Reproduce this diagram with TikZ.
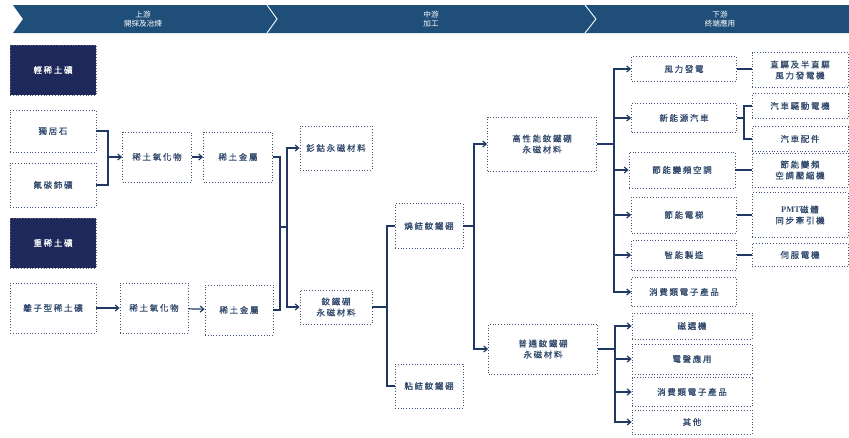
\documentclass[tikz,border=0pt]{standalone}
\usepackage{fontspec}
\setmainfont{Noto Sans CJK TC}
\newfontfamily\boxfont{Noto Sans CJK TC}[LetterSpace=20, FakeBold=0.6]
\newfontfamily\latinserif{Liberation Serif}
\usetikzlibrary{arrows.meta, positioning, calc}
\definecolor{barblue}{RGB}{31, 78, 121}
\definecolor{orenavy}{RGB}{31, 40, 90}
\definecolor{linenavy}{RGB}{31, 56, 100}
\definecolor{boxtext}{RGB}{50, 74, 110}

\begin{document}
\begin{tikzpicture}[x=1pt, y=-1pt,
  box/.style={draw=linenavy!85, dotted, line width=0.8pt, fill=white,
              text=boxtext, align=center, inner sep=1pt,
              font=\boxfont\fontsize{8.5}{11}\selectfont},
  ore/.style={box, fill=orenavy, draw=orenavy!70, text=white},
  stage/.style={text=white, align=center,
                font=\fontsize{7.6}{9}\selectfont},
  link/.style={draw=linenavy, line width=1.2pt},
  feed/.style={link, -{Straight Barb[length=3.5pt, width=6pt]}}
]
  \useasboundingbox (0,0) rectangle (849,437);

  % value chain banner
  \fill[barblue] (13,5) -- (849,5) -- (849,33) -- (13,33) -- (23,19) -- cycle;
  \draw[white, line width=0.9pt] (267,5) -- (277,19) -- (267,33);
  \draw[white, line width=0.9pt] (585,5) -- (596,19) -- (585,33);
  \node[stage] (up) at (143,19) {上游\\開採及冶煉};
  \node[stage] (mid) at (431,19) {中游\\加工};
  \node[stage] (down) at (720,19) {下游\\終端應用};

  % upstream
  \node[ore, minimum width=86pt, minimum height=50pt] (light) at (53,70) {輕稀土礦};
  \node[box, minimum width=86pt, minimum height=42pt] (mon) at (53,131) {獨居石};
  \node[box, minimum width=86pt, minimum height=44pt] (bast) at (53,185) {氟碳鈰礦};
  \node[ore, minimum width=86pt, minimum height=50pt] (heavy) at (53,243) {重稀土礦};
  \node[box, minimum width=86pt, minimum height=50pt] (ion) at (53,308) {離子型稀土礦};

  \node[box, minimum width=69pt, minimum height=50pt] (oxideA) at (157,157) {稀土氧化物};
  \node[box, minimum width=69pt, minimum height=50pt] (metalA) at (238,157) {稀土金屬};
  \node[box, minimum width=68pt, minimum height=50pt] (oxideB) at (154,308) {稀土氧化物};
  \node[box, minimum width=68pt, minimum height=50pt] (metalB) at (239,310) {稀土金屬};

  % midstream
  \node[box, minimum width=72pt, minimum height=44pt] (smco) at (336,148) {釤鈷永磁材料};
  \node[box, minimum width=72pt, minimum height=34pt] (ndfeb) at (336,307) {釹鐵硼\\永磁材料};
  \node[box, minimum width=68pt, minimum height=45pt] (sint) at (429,226) {燒結釹鐵硼};
  \node[box, minimum width=68pt, minimum height=44pt] (bond) at (429,386) {粘結釹鐵硼};
  \node[box, minimum width=109pt, minimum height=54pt] (hp) at (542,144) {高性能釹鐵硼\\永磁材料};
  \node[box, minimum width=109pt, minimum height=50pt] (norm) at (543,349) {普通釹鐵硼\\永磁材料};

  % downstream
  \node[box, minimum width=105pt, minimum height=25pt] (wind) at (684,69) {風力發電};
  \node[box, minimum width=105pt, minimum height=29pt] (nev) at (684,118) {新能源汽車};
  \node[box, minimum width=106pt, minimum height=36pt] (ac) at (682,170) {節能變頻空調};
  \node[box, minimum width=105pt, minimum height=36pt] (elev) at (684,215) {節能電梯};
  \node[box, minimum width=105pt, minimum height=30pt] (smart) at (684,255) {智能製造};
  \node[box, minimum width=105pt, minimum height=29pt] (consA) at (684,292) {消費類電子產品};

  \node[box, minimum width=120pt, minimum height=26pt] (magsep) at (692,326) {磁選機};
  \node[box, minimum width=120pt, minimum height=30pt] (acou) at (692,359) {電聲應用};
  \node[box, minimum width=120pt, minimum height=29pt] (consB) at (692,392) {消費類電子產品};
  \node[box, minimum width=120pt, minimum height=24pt] (other) at (692,422) {其他};

  \node[box, minimum width=96pt, minimum height=35pt] (direct) at (800,70) {直驅及半直驅\\風力發電機};
  \node[box, minimum width=96pt, minimum height=25pt] (motor) at (800,106) {汽車驅動電機};
  \node[box, minimum width=96pt, minimum height=25pt] (parts) at (800,139) {汽車配件};
  \node[box, minimum width=96pt, minimum height=34pt] (comp) at (800,170) {節能變頻\\空調壓縮機};
  \node[box, minimum width=96pt, minimum height=45pt] (pmt) at (800,215) {{\latinserif\bfseries PMT}磁體\\同步牽引機};
  \node[box, minimum width=96pt, minimum height=23pt] (servo) at (800,255) {伺服電機};

  % connectors
  \draw[link] (mon.east) -| (108,157) |- (bast.east);
  \draw[feed] (108,157) -- (oxideA.west);
  \draw[feed] (oxideA) -- (metalA);
  \draw[feed] (ion) -- (oxideB);
  \draw[feed] (oxideB) -- (metalB);

  \draw[link] (metalA.east) -| (280,227) |- (metalB.east);
  \draw[link] (280,227) -- (287,227);
  \draw[feed] (287,227) |- (smco.west);
  \draw[feed] (287,227) |- (ndfeb.west);

  \draw[link] (ndfeb.east) -| (387,226) -- (sint.west);
  \draw[link] (387,307) |- (bond.west);

  \draw[link] (sint.east) -- (474,226);
  \draw[feed] (474,226) |- (hp.west);
  \draw[feed] (474,226) |- (norm.west);

  \draw[link] (hp.east) -- (614,144);
  \foreach \app in {wind, nev, ac, elev, smart, consA}
    \draw[feed] (614,144) |- (\app.west);

  \draw[link] (norm.east) -- (615,349);
  \foreach \app in {magsep, acou, consB, other}
    \draw[feed] (615,349) |- (\app.west);

  \draw[link] (wind.east) -- (wind.east -| direct.west);
  \draw[link] (nev.east) -- (744,118);
  \draw[link] (744,118) |- (motor.west);
  \draw[link] (744,118) |- (parts.west);
  \draw[link] (ac.east) -- (ac.east -| comp.west);
  \draw[link] (elev.east) -- (elev.east -| pmt.west);
  \draw[link] (smart.east) -- (smart.east -| servo.west);
\end{tikzpicture}
\end{document}
